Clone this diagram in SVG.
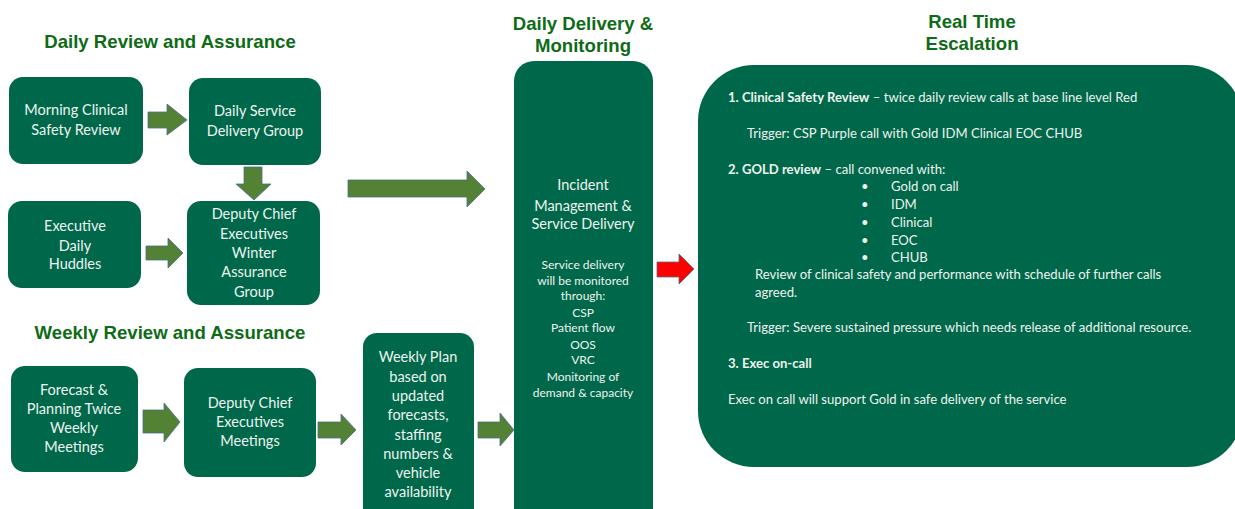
<svg xmlns="http://www.w3.org/2000/svg" width="1235" height="509" viewBox="0 0 1235 509">
<style>
.h{font-family:"Liberation Sans",Arial,sans-serif;font-weight:bold;font-size:18.6px;fill:#0E6B16;text-anchor:middle}
.box{fill:#00684A}
.t{font-family:Lato,"Liberation Sans",sans-serif;font-size:14.5px;fill:#EEF3EF;text-anchor:middle}
.s{font-family:Lato,"Liberation Sans",sans-serif;font-size:12px;fill:#EEF3EF;text-anchor:middle}
.r{font-family:Lato,"Liberation Sans",sans-serif;font-size:13.1px;fill:#EEF3EF}
.b{font-weight:bold}
.ga{fill:#548235;stroke:#4A6F8F;stroke-width:0.8}
.ra{fill:#FF0000;stroke:#4A6F8F;stroke-width:0.8}
</style>
<rect width="1235" height="509" fill="#FFFFFF"/>
<g id="headings">
<text class="h" x="170" y="48">Daily Review and Assurance</text>
<text class="h" x="170" y="339">Weekly Review and Assurance</text>
<text class="h" x="583" y="30">Daily Delivery &amp;</text>
<text class="h" x="583" y="52">Monitoring</text>
<text class="h" x="972" y="28">Real Time</text>
<text class="h" x="972" y="50">Escalation</text>
</g>
<g id="connectors">
<polygon class="ga" points="148,112 167,112 167,104 187,120 167,135 167,128 148,128"/>
<polygon class="ga" points="244,167 262,167 262,184 271,184 254,200 236,184 244,184"/>
<polygon class="ga" points="146,246 168,246 168,238 183,253 168,268 168,260 146,260"/>
<polygon class="ga" points="348,180 467,180 467,171 485,189 467,207 467,197 348,197"/>
<polygon class="ga" points="143,410 164,410 164,403 180,422 164,442 164,433 143,433"/>
<polygon class="ga" points="318,422 341,422 341,414 356,430 341,445 341,438 318,438"/>
<polygon class="ga" points="478,422 500,422 500,413 514,430 500,446 500,438 478,438"/>
<polygon class="ra" points="657,262 679,262 679,254 694,269 679,284 679,277 657,277"/>
</g>
<g id="n-morning">
<rect class="box" x="9" y="77" width="134" height="87" rx="14"/>
<text class="t" x="76" y="115">Morning Clinical</text>
<text class="t" x="76" y="135">Safety Review</text>
</g>
<g id="n-dsdg">
<rect class="box" x="189" y="78" width="132" height="87" rx="14"/>
<text class="t" x="255" y="116">Daily Service</text>
<text class="t" x="255" y="136">Delivery Group</text>
</g>
<g id="n-edh">
<rect class="box" x="8" y="201" width="133" height="87" rx="14"/>
<text class="t" x="75" y="231">Executive</text>
<text class="t" x="75" y="251">Daily</text>
<text class="t" x="75" y="269">Huddles</text>
</g>
<g id="n-dcewag">
<rect class="box" x="187" y="201" width="133" height="104" rx="14"/>
<text class="t" x="254" y="219">Deputy Chief</text>
<text class="t" x="254" y="239">Executives</text>
<text class="t" x="254" y="258">Winter</text>
<text class="t" x="254" y="277">Assurance</text>
<text class="t" x="254" y="297">Group</text>
</g>
<g id="n-forecast">
<rect class="box" x="11" y="366" width="127" height="106" rx="14"/>
<text class="t" x="74" y="395">Forecast &amp;</text>
<text class="t" x="74" y="414">Planning Twice</text>
<text class="t" x="74" y="433">Weekly</text>
<text class="t" x="74" y="452">Meetings</text>
</g>
<g id="n-dcem">
<rect class="box" x="184" y="368" width="132" height="109" rx="14"/>
<text class="t" x="250" y="408">Deputy Chief</text>
<text class="t" x="250" y="427">Executives</text>
<text class="t" x="250" y="446">Meetings</text>
</g>
<g id="n-weeklyplan">
<rect class="box" x="363" y="333" width="111" height="196" rx="14"/>
<text class="t" x="418" y="362">Weekly Plan</text>
<text class="t" x="418" y="382">based on</text>
<text class="t" x="418" y="401">updated</text>
<text class="t" x="418" y="420">forecasts,</text>
<text class="t" x="418" y="440">staffing</text>
<text class="t" x="418" y="459">numbers &amp;</text>
<text class="t" x="418" y="478">vehicle</text>
<text class="t" x="418" y="497">availability</text>
</g>
<g id="n-incident">
<rect class="box" x="514" y="61" width="139" height="480" rx="20"/>
<text class="t" x="583" y="190">Incident</text>
<text class="t" x="583" y="211">Management &amp;</text>
<text class="t" x="583" y="229">Service Delivery</text>
<text class="s" x="583" y="269">Service delivery</text>
<text class="s" x="583" y="285">will be monitored</text>
<text class="s" x="583" y="300">through:</text>
<text class="s" x="583" y="317">CSP</text>
<text class="s" x="583" y="332">Patient flow</text>
<text class="s" x="583" y="349">OOS</text>
<text class="s" x="583" y="364">VRC</text>
<text class="s" x="583" y="381">Monitoring of</text>
<text class="s" x="583" y="397">demand &amp; capacity</text>
</g>
<g id="n-escalation">
<rect class="box" x="698" y="65" width="545" height="402" rx="56"/>
<text class="r" x="728" y="102"><tspan class="b">1. Clinical Safety Review</tspan> – twice daily review calls at base line level Red</text>
<text class="r" x="747" y="138">Trigger: CSP Purple call with Gold IDM Clinical EOC CHUB</text>
<text class="r" x="728" y="174"><tspan class="b">2. GOLD review</tspan> – call convened with:</text>
<text class="r" x="861" y="191">•</text><text class="r" x="891" y="191">Gold on call</text>
<text class="r" x="861" y="209">•</text><text class="r" x="891" y="209">IDM</text>
<text class="r" x="861" y="227">•</text><text class="r" x="891" y="227">Clinical</text>
<text class="r" x="861" y="245">•</text><text class="r" x="891" y="245">EOC</text>
<text class="r" x="861" y="262">•</text><text class="r" x="891" y="262">CHUB</text>
<text class="r" x="755" y="279">Review of clinical safety and performance with schedule of further calls</text>
<text class="r" x="755" y="297">agreed.</text>
<text class="r" x="747" y="332">Trigger: Severe sustained pressure which needs release of additional resource.</text>
<text class="r b" x="728" y="368">3. Exec on-call</text>
<text class="r" x="728" y="404">Exec on call will support Gold in safe delivery of the service</text>
</g>
</svg>
